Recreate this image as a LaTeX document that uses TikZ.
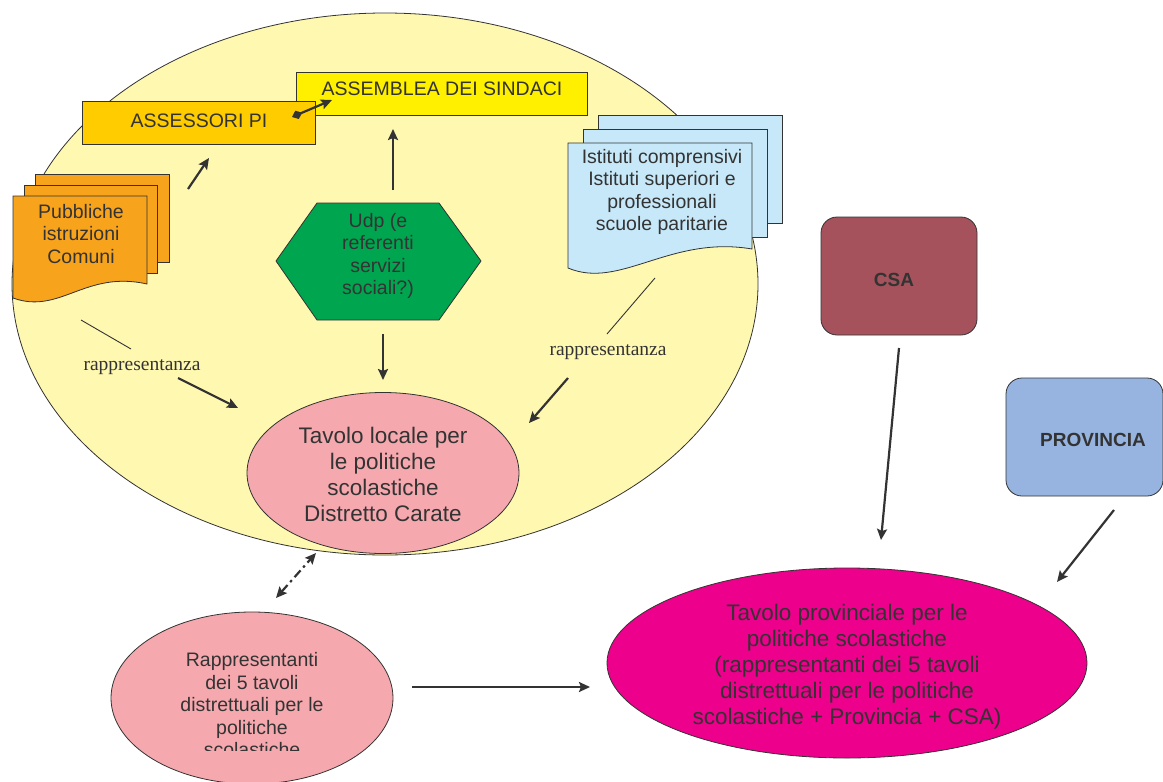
\documentclass[tikz,border=0pt]{standalone}
\usepackage{fontspec}
\setmainfont{Liberation Sans}
\newfontfamily\serifrm{Liberation Serif}
\usetikzlibrary{arrows.meta,shapes.geometric}
\definecolor{ink}{HTML}{333333}
\definecolor{bigy}{HTML}{FFF8B0}
\definecolor{assess}{HTML}{FFCC00}
\definecolor{assemb}{HTML}{FFF000}
\definecolor{orangec}{HTML}{F7A31C}
\definecolor{greenc}{HTML}{00A54F}
\definecolor{bluec}{HTML}{C7E8F8}
\definecolor{pinkc}{HTML}{F5A9AE}
\definecolor{csac}{HTML}{A5525C}
\definecolor{provc}{HTML}{96B4DF}
\definecolor{magc}{HTML}{EC008C}
\begin{document}
\begin{tikzpicture}[x=1pt,y=-1pt,
  txt/.style={text=ink, align=center, inner sep=0pt, font=\fontsize{19.5}{22.5}\selectfont},
  bigtxt/.style={txt, font=\fontsize{22.5}{26}\selectfont},
  boldtxt/.style={txt, font=\fontsize{19}{22}\selectfont\bfseries},
  reptxt/.style={text=ink, inner sep=0pt, font=\fontsize{19.5}{22}\selectfont\serifrm},
  outline/.style={draw=ink, line width=0.8pt},
  arr/.style={draw=ink, line width=2.2pt, -{Stealth[length=11pt,width=10pt,inset=2pt]}},
  thinline/.style={draw=ink, line width=0.9pt},
  boxnode/.style={outline, inner sep=0pt, anchor=north west}
]
\useasboundingbox (0,0) rectangle (1163,782);

% big yellow zone
\node[ellipse, outline, fill=bigy, minimum width=746pt, minimum height=542pt, inner sep=0pt] (zone) at (385,284) {};

% banners
\node[boxnode, fill=assemb, minimum width=291pt, minimum height=43pt] (assembbox) at (296,72) {};
\node[txt] (assembtxt) at (442,89) {ASSEMBLEA DEI SINDACI};
\node[boxnode, fill=assess, minimum width=233pt, minimum height=43pt] (assessbox) at (82,101) {};
\node[txt] (assesstxt) at (199,121) {ASSESSORI PI};
\coordinate (dA) at (292,117);
\coordinate (dB) at (332,100);
\draw[draw=ink, line width=2.2pt, {Diamond[length=11pt,width=9pt]}-{Stealth[length=11pt,width=10pt,inset=2pt]}] (dA) -- (dB);

% left document stack
\draw[outline, fill=orangec] (35,174) rectangle (169,262);
\draw[outline, fill=orangec] (24,185) rectangle (157,273);
\draw[outline, fill=orangec] (13,196) -- (147,196) -- (147,284) .. controls (85,270) and (60,315) .. (13,298) -- cycle;
\node[txt] (pub) at (81,234) {Pubbliche\\istruzioni\\Comuni};

% right document stack
\draw[outline, fill=bluec] (598,115) rectangle (782,223);
\draw[outline, fill=bluec] (583,129) rectangle (767,237);
\draw[outline, fill=bluec] (568,143) -- (752,143) -- (752,249) .. controls (670,235) and (620,290) .. (568,268) -- cycle;
\node[txt] (ist) at (662,192) {Istituti comprensivi\\Istituti superiori e\\professionali\\scuole paritarie};

% hexagon
\draw[outline, fill=greenc] (317,203) -- (439,203) -- (481,261) -- (439,320) -- (317,320) -- (276,261) -- cycle;
\node[txt] (udp) at (378,256) {Udp (e\\referenti\\servizi\\sociali?)};

% arrows inside zone
\coordinate (p1s) at (188,189); \coordinate (p1e) at (209,158);
\draw[arr] (p1s) -- (p1e);
\coordinate (u1s) at (393,190); \coordinate (u1e) at (393,129);
\draw[arr] (u1s) -- (u1e);
\coordinate (u2s) at (383,334); \coordinate (u2e) at (383,380);
\draw[arr] (u2s) -- (u2e);

% rappresentanza left
\coordinate (l1s) at (81,320); \coordinate (l1e) at (131,349);
\draw[thinline] (l1s) -- (l1e);
\node[reptxt] (repL) at (142,367) {rappresentanza};
\coordinate (l2s) at (178,378); \coordinate (l2e) at (238,408);
\draw[arr] (l2s) -- (l2e);

% rappresentanza right
\coordinate (r1s) at (655,278); \coordinate (r1e) at (607,334);
\draw[thinline] (r1s) -- (r1e);
\node[reptxt] (repR) at (608,352) {rappresentanza};
\coordinate (r2s) at (568,378); \coordinate (r2e) at (529,423);
\draw[arr] (r2s) -- (r2e);

% tavolo locale
\node[ellipse, outline, fill=pinkc, minimum width=272pt, minimum height=161pt, inner sep=0pt] (loc) at (383,473) {};
\node[bigtxt] (loctxt) at (383,474) {Tavolo locale per\\le politiche\\scolastiche\\Distretto Carate};

% dash-dot double arrow
\coordinate (dd1) at (276,598); \coordinate (dd2) at (316,553);
\draw[draw=ink, line width=2.2pt, dash pattern=on 9pt off 4pt on 2.5pt off 4pt, {Stealth[length=11pt,width=10pt,inset=2pt]}-{Stealth[length=11pt,width=10pt,inset=2pt]}] (dd1) -- (dd2);

% rappresentanti
\node[ellipse, outline, fill=pinkc, minimum width=282pt, minimum height=172pt, inner sep=0pt] (rapp) at (252,698) {};
\begin{scope}
\clip (100,600) rectangle (400,750);
\node[txt] (rapptxt) at (252,705) {Rappresentanti\\dei 5 tavoli\\distrettuali per le\\politiche\\scolastiche};
\end{scope}

\coordinate (h1s) at (412,687); \coordinate (h1e) at (590,687);
\draw[arr] (h1s) -- (h1e);

% CSA
\node[outline, fill=csac, rounded corners=16pt, minimum width=156pt, minimum height=118pt, inner sep=0pt] (csa) at (899,276) {};
\node[boldtxt] (csatxt) at (894,280) {CSA};

% PROVINCIA
\node[outline, fill=provc, rounded corners=16pt, minimum width=157pt, minimum height=118pt, inner sep=0pt] (prov) at (1084.5,437) {};
\node[boldtxt] (provtxt) at (1093,440) {PROVINCIA};

% provincial table
\node[ellipse, outline, fill=magc, minimum width=480pt, minimum height=190pt, inner sep=0pt] (tp) at (847,663) {};
\node[bigtxt] (tptxt) at (847,667) {Tavolo provinciale per le\\politiche scolastiche\\(rappresentanti dei 5 tavoli\\distrettuali per le politiche\\scolastiche + Provincia + CSA)};

\coordinate (c1s) at (899,348); \coordinate (c1e) at (881,540);
\draw[arr] (c1s) -- (c1e);
\coordinate (v1s) at (1114,510); \coordinate (v1e) at (1057,582);
\draw[arr] (v1s) -- (v1e);
\end{tikzpicture}
\end{document}
